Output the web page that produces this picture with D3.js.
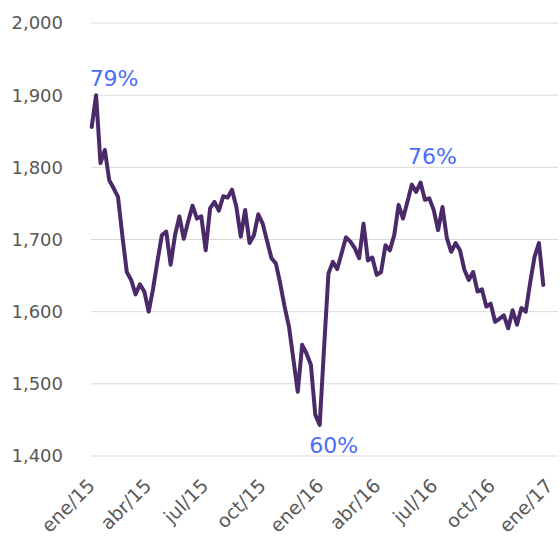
<!DOCTYPE html>
<html>
<head>
<meta charset="utf-8">
<script src="https://cdn.jsdelivr.net/npm/d3@7"></script>
<style>
  body { margin: 0; background: #fff; }
  svg text { font-family: "DejaVu Sans", sans-serif; }
</style>
</head>
<body>
<div id="c"></div>
<script>
// weekly series, first week of jan/15
var start_date = "2015-01-02";
var values = [
	1856,1900,1806,1824,1782,1771,1759,1705,1655,1644,
	1624,1638,1628,1600,1632,1670,1706,1711,1665,1706,
	1732,1701,1725,1747,1729,1732,1685,1743,1752,1740,
	1760,1758,1769,1745,1704,1741,1695,1706,1735,1722,
	1698,1674,1667,1639,1607,1579,1534,1489,1554,1542,
	1526,1457,1443,1550,1653,1669,1659,1681,1703,1697,
	1688,1674,1722,1671,1675,1651,1655,1692,1685,1706,
	1748,1729,1752,1776,1766,1779,1755,1757,1741,1713,
	1745,1702,1683,1695,1685,1658,1644,1655,1628,1631,
	1607,1611,1586,1590,1595,1577,1602,1582,1605,1600,
	1640,1676,1695,1637
];

var tick_dates = ["2015-01-01","2015-04-01","2015-07-01","2015-10-01","2016-01-01",
	"2016-04-01","2016-07-01","2016-10-01","2017-01-01"];
var tick_labels = ["ene/15","abr/15","jul/15","oct/15","ene/16","abr/16","jul/16","oct/16","ene/17"];
var y_ticks = [1400, 1500, 1600, 1700, 1800, 1900, 2000];

// highlighted points
var ann_index = [1, 52, 75];
var ann_text = ["79%", "60%", "76%"];

var width = 560, height = 537;
var x_left = 91.7, x_right = 543.3;
var grid_left = 91, grid_right = 558;
var y_top = 23, y_bottom = 456;

var parse = d3.timeParse("%Y-%m-%d");
var t0 = parse(start_date);
var data = values.map(function(v, i) {
	return { date: d3.timeDay.offset(t0, 7 * i), value: v };
});

var x_scale = d3.scaleTime()
	.domain([data[0].date, data[data.length - 1].date])
	.range([x_left, x_right]);

var y_scale = d3.scaleLinear()
	.domain([1400, 2000])
	.range([y_bottom, y_top]);

var svg = d3.select("#c").append("svg")
	.attr("width", width)
	.attr("height", height);

// gridlines + y labels
var ya = svg.append("g");
ya.selectAll("line")
	.data(y_ticks)
	.enter()
	.append("line")
	.attr("x1", grid_left)
	.attr("x2", grid_right)
	.attr("y1", function(d) { return y_scale(d) })
	.attr("y2", function(d) { return y_scale(d) })
	.attr("stroke", "#d9d9d9")
	.attr("stroke-width", 1);

ya.selectAll("text")
	.data(y_ticks)
	.enter()
	.append("text")
	.attr("x", 63)
	.attr("y", function(d) { return y_scale(d) })
	.attr("dy", "0.36em")
	.attr("text-anchor", "end")
	.attr("font-size", 18)
	.attr("fill", "#595959")
	.text(d3.format(","));

// x labels, rotated
svg.append("g")
	.selectAll("text")
	.data(tick_dates)
	.enter()
	.append("text")
	.attr("transform", function(d) {
		return "translate(" + (x_scale(parse(d)) + 5) + "," + 487 + ") rotate(-45)";
	})
	.attr("text-anchor", "end")
	.attr("font-size", 19)
	.attr("fill", "#595959")
	.text(function(d, i) { return tick_labels[i] });

// the line
var line = d3.line()
	.x(function(d) { return x_scale(d.date) })
	.y(function(d) { return y_scale(d.value) });

svg.append("path")
	.datum(data)
	.attr("d", line)
	.attr("fill", "none")
	.attr("stroke", "#4b2a6a")
	.attr("stroke-width", 4)
	.attr("stroke-linejoin", "round")
	.attr("stroke-linecap", "round");

// annotations
var ann_off = [[18, -9], [14, 28], [12, -18]];
svg.append("g")
	.selectAll("text")
	.data(ann_index)
	.enter()
	.append("text")
	.attr("x", function(d, i) { return x_scale(data[d].date) + ann_off[i][0] })
	.attr("y", function(d, i) { return y_scale(data[d].value) + ann_off[i][1] })
	.attr("text-anchor", "middle")
	.attr("font-size", 22)
	.attr("fill", "#4b6ef5")
	.text(function(d, i) { return ann_text[i] });
</script>
</body>
</html>
